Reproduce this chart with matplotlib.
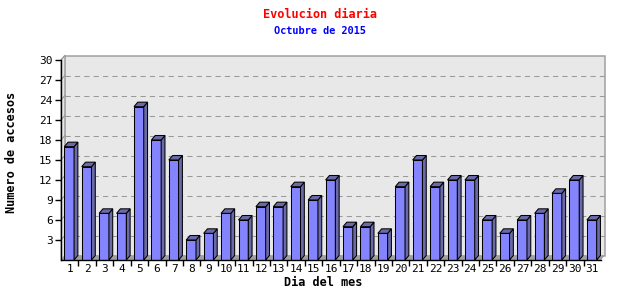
import matplotlib
matplotlib.use("Agg")
import matplotlib.pyplot as plt
from matplotlib.patches import Polygon, Rectangle
from matplotlib.transforms import ScaledTranslation
import numpy as np

dias = list(range(1, 32))
accesos = [17, 14, 7, 7, 23, 18, 15, 3, 4, 7, 6, 8, 8, 11, 9, 12,
           5, 5, 4, 11, 15, 11, 12, 12, 6, 4, 6, 7, 10, 12, 6]
yticks = [3, 6, 9, 12, 15, 18, 21, 24, 27, 30]

W, H, DPI = 640, 300, 100
fig = plt.figure(figsize=(W / DPI, H / DPI), dpi=DPI)
fig.patch.set_facecolor('white')

# front plane of the 3d box, in pixels
x0, x1, ytop, ybot = 61, 601, 60, 260
ax = fig.add_axes([x0 / W, (H - ybot) / H, (x1 - x0) / W, (ybot - ytop) / H])
ax.set_xlim(0.5, 31.5)
ax.set_ylim(0, 30)
ax.patch.set_visible(False)

# depth of the 3d effect in data units
px_x = 31.0 / (x1 - x0)
px_y = 30.0 / (ybot - ytop)
ddx, ddy = 3.8 * px_x, 4.5 * px_y
lw1 = 0.75  # about one pixel

# back wall
shift = ScaledTranslation(3.8 / DPI, 4.5 / DPI, fig.dpi_scale_trans)
back = Rectangle((0, 0), 1, 1, transform=ax.transAxes + shift,
                 facecolor='#e8e8e8', edgecolor='#a0a0a0', lw=1.1,
                 clip_on=False, zorder=0)
ax.add_patch(back)
# left wall sliver
ax.add_patch(Polygon([(0.5, 0), (0.5 + ddx, ddy), (0.5 + ddx, 30 + ddy), (0.5, 30)],
                     closed=True, facecolor='#e8e8e8', edgecolor='#a0a0a0',
                     lw=lw1, clip_on=False, zorder=0.5))
# floor
ax.add_patch(Polygon([(0.5, 0), (31.5, 0), (31.5 + ddx, ddy), (0.5 + ddx, ddy)],
                     closed=True, facecolor='#a0a0a0', edgecolor='none',
                     clip_on=False, zorder=1))

# grid lines on the back wall
for y in yticks[:-1]:
    ax.plot([0.5 + ddx, 31.5 + ddx], [y + ddy, y + ddy], color='#999999',
            lw=lw1, ls=(0, (5, 4)), zorder=1, clip_on=False)
for y in yticks:
    ax.plot([0.5, 0.5 + ddx], [y, y + ddy], color='#999999', lw=lw1,
            zorder=1, clip_on=False)

# bars
bw = 0.56
front_c = '#8484ff'
dark_c = '#6a6aa8'
for i, (d, v) in enumerate(zip(dias, accesos)):
    left = d - 0.31
    right = left + bw
    z = 2 + i * 0.01
    ax.add_patch(Rectangle((left, 0), bw, v, facecolor=front_c,
                           edgecolor='black', lw=lw1, zorder=z))
    ax.add_patch(Polygon([(right, 0), (right + ddx, ddy), (right + ddx, v + ddy), (right, v)],
                         closed=True, facecolor=dark_c, edgecolor='black',
                         lw=lw1, zorder=z, clip_on=False))
    ax.add_patch(Polygon([(left, v), (right, v), (right + ddx, v + ddy), (left + ddx, v + ddy)],
                         closed=True, facecolor=dark_c, edgecolor='black',
                         lw=lw1, zorder=z, clip_on=False))

# axes
for s in ['top', 'right']:
    ax.spines[s].set_visible(False)
for s in ['left', 'bottom']:
    ax.spines[s].set_color('black')
    ax.spines[s].set_linewidth(1.0)
    ax.spines[s].set_zorder(5)

mono = 'DejaVu Sans Mono'
ax.set_yticks(yticks)
ax.set_yticklabels([str(t) for t in yticks], family=mono, fontsize=8)
ax.tick_params(axis='y', direction='out', length=4, width=1, pad=2)
ax.set_xticks(dias)
ax.set_xticklabels([str(d) for d in dias], family=mono, fontsize=8)
ax.tick_params(axis='x', which='major', length=0, pad=3)
ax.set_xticks(np.arange(1.5, 31.5, 1.0), minor=True)
ax.tick_params(axis='x', which='minor', direction='out', length=4, width=1)

fig.text(0.5, 1 - 14 / H, 'Evolucion diaria', color='red', family=mono,
         fontweight='bold', fontsize=8.6, ha='center', va='center')
fig.text(0.5, 1 - 31 / H, 'Octubre de 2015', color='blue', family=mono,
         fontweight='bold', fontsize=7.4, ha='center', va='center')
fig.text(12 / W, 1 - 152 / H, 'Numero de accesos', rotation=90, family=mono,
         fontweight='bold', fontsize=8.6, ha='center', va='center')
fig.text(323 / W, 1 - 282 / H, 'Dia del mes', family=mono,
         fontweight='bold', fontsize=8.6, ha='center', va='center')

fig.savefig('out.png', dpi=DPI)
